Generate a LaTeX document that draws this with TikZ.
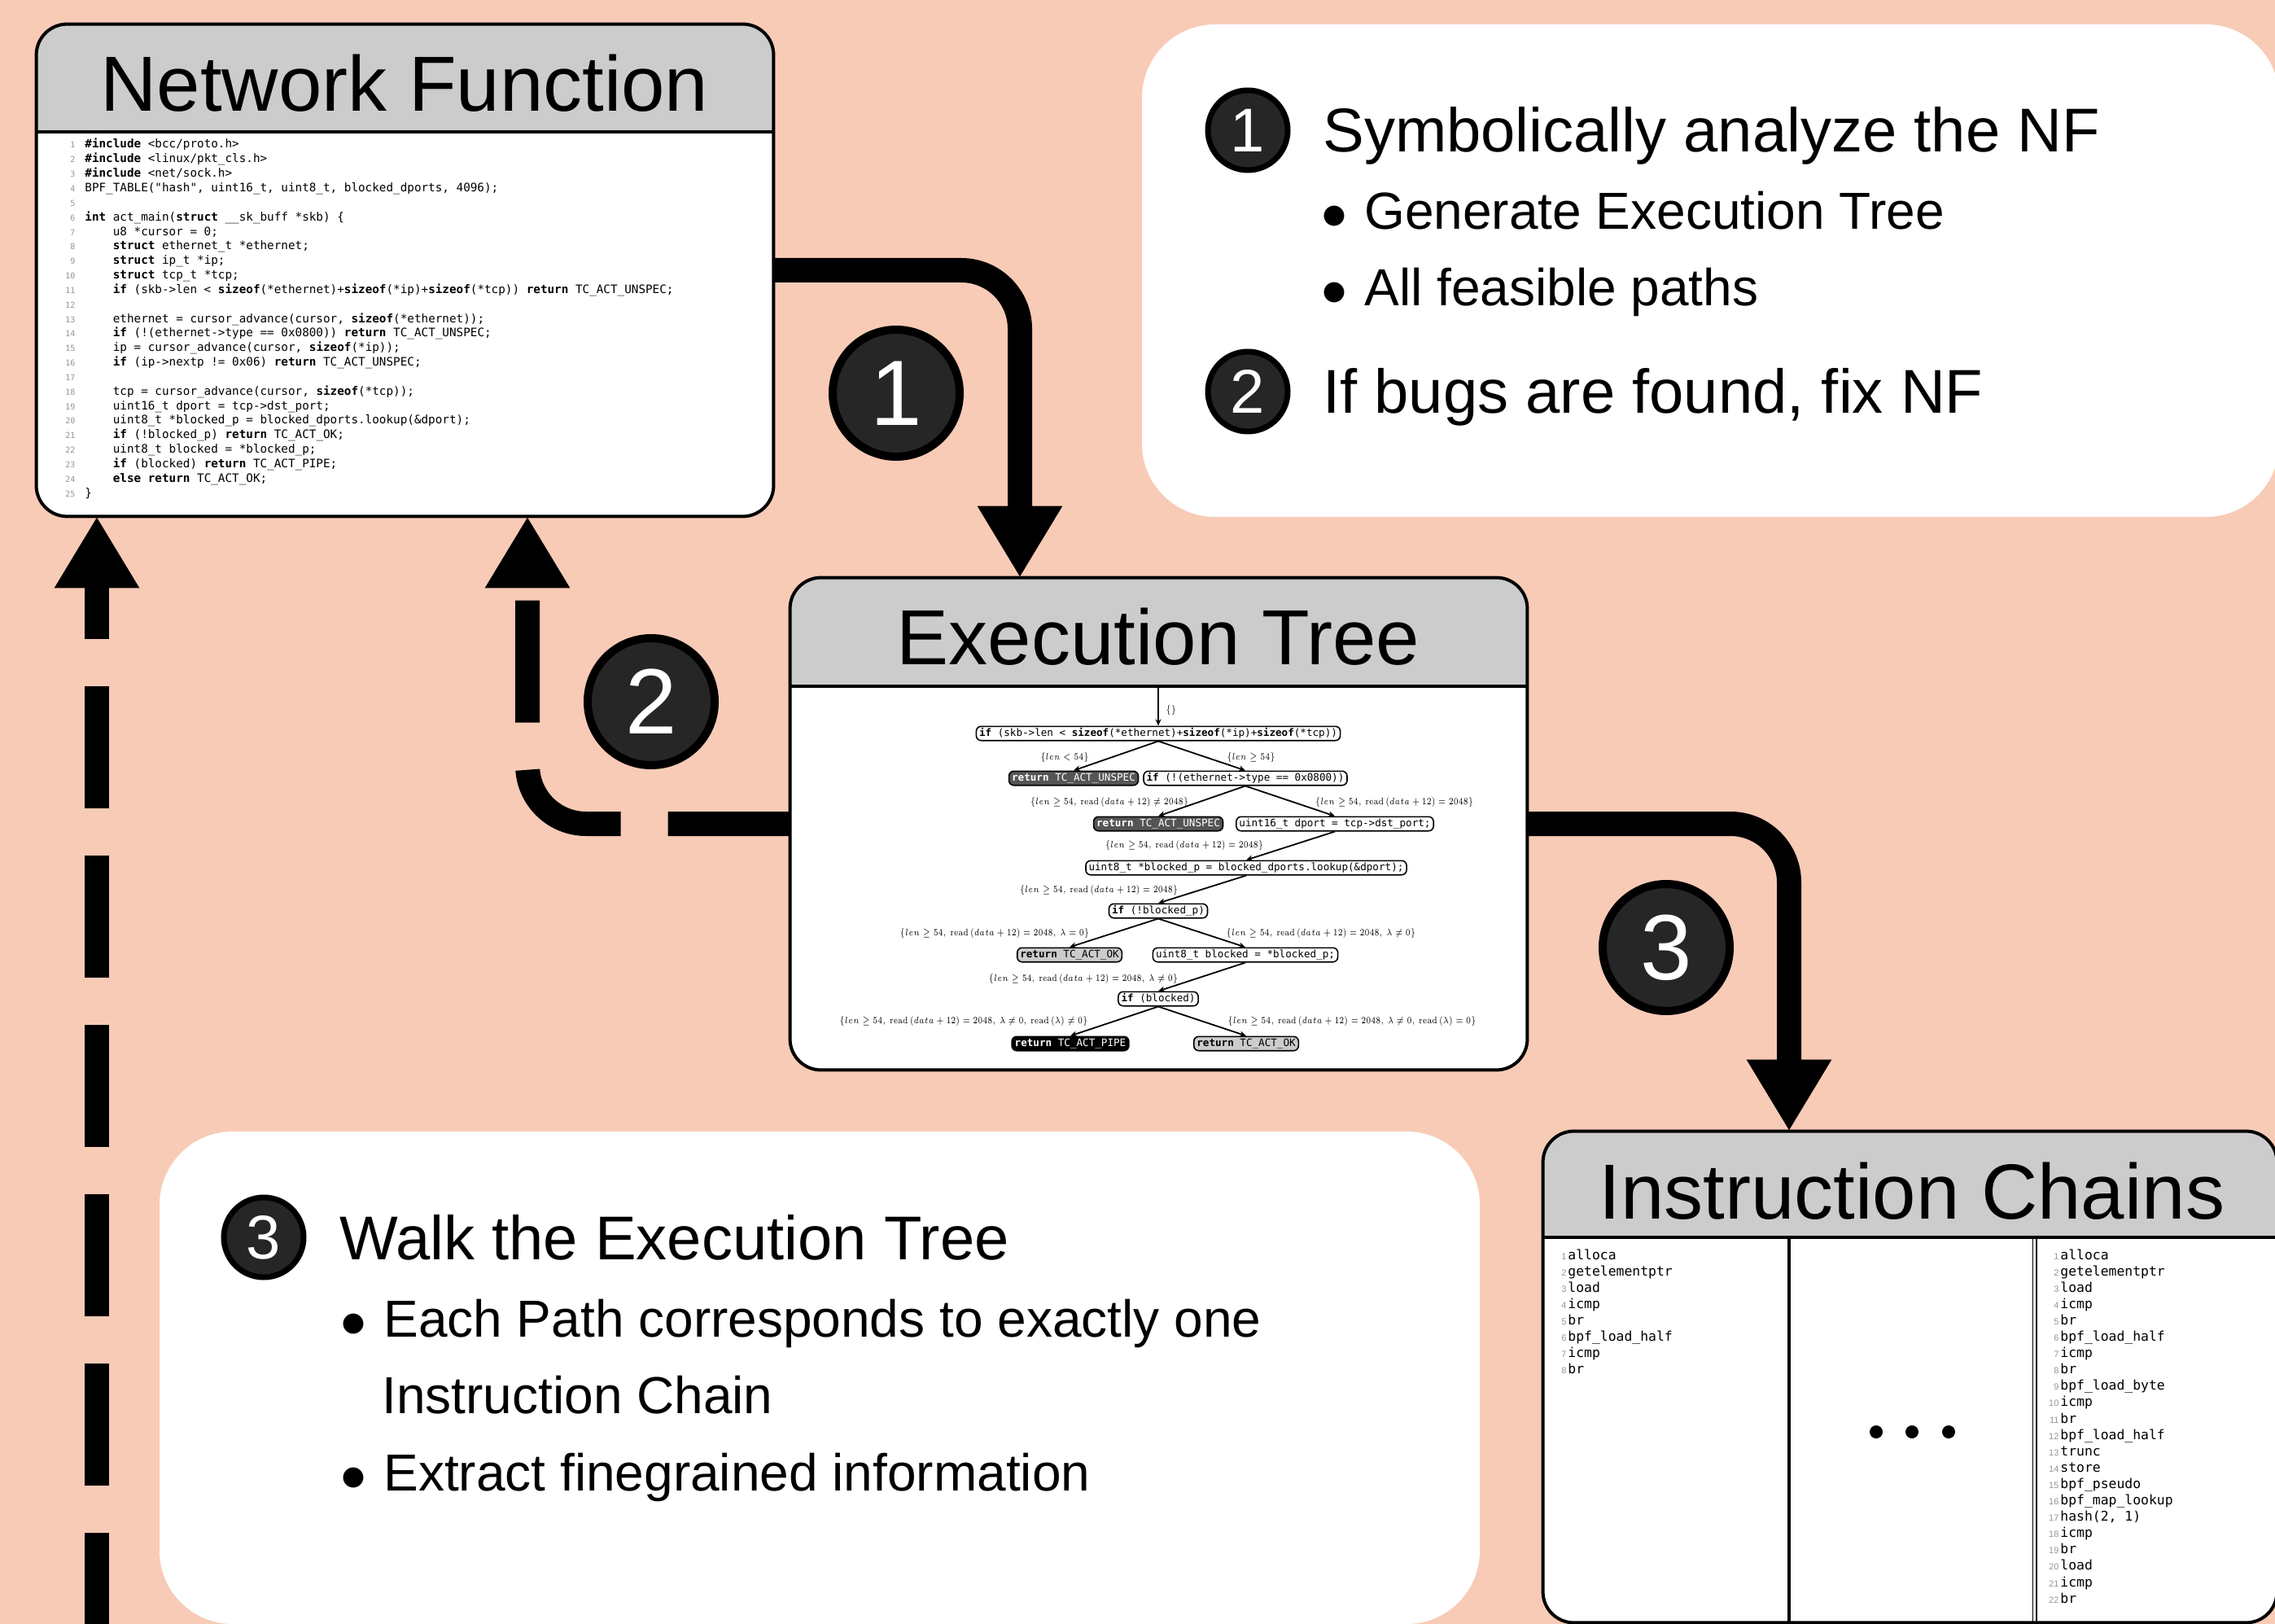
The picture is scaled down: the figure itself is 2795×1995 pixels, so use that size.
\RequirePackage{fix-cm}
\documentclass[tikz,border=0pt]{standalone}
\usepackage[no-math]{fontspec}
\setmainfont{Liberation Sans}
\setmonofont{DejaVu Sans Mono}
\usepackage{graphicx}
\usetikzlibrary{arrows.meta,fit,calc}

\definecolor{bgpeach}{RGB}{248,203,182}
\definecolor{hdrgrey}{RGB}{204,204,204}
\definecolor{stepfill}{RGB}{38,38,38}
\definecolor{numgrey}{RGB}{150,150,150}
\definecolor{darknode}{RGB}{85,85,85}
\definecolor{lightnode}{RGB}{204,204,204}

% line number in the source listing
\newcommand\cln[1]{\makebox[8pt][r]{\fontsize{5}{5}\selectfont\color{numgrey}#1}\hspace{6pt}}
% line number in an instruction chain
\newcommand\icn[1]{\makebox[7pt][r]{\rmfamily\fontsize{5.5}{5.5}\selectfont\color{numgrey}#1}\hspace{1pt}}
\newcommand\IND{\hspace*{2.408em}}
\newcommand\kw[1]{\textbf{#1}}
% bullet of the explanation lists
\newcommand\itembullet{$\bullet$\hspace{10.5pt}}
% path condition on a tree edge (narrow set)
\newcommand\cond[1]{\scalebox{0.845}[1.12]{$#1$}}

% panel with grey header: name, top-left, bottom-right, header height
\newcommand\headedpanel[4]{%
  \node[panelbox, fit={#2 #3}] (#1) {};
  \begin{scope}
    \clip[rounded corners=19pt] (#1.north west) rectangle (#1.south east);
    \fill[hdrgrey] (#1.north west) rectangle ($(#1.north east)+(0,#4)$);
  \end{scope}
  \draw[frame] ($(#1.north west)+(0,#4)$) -- ($(#1.north east)+(0,#4)$);
  \draw[frame, rounded corners=19pt] (#1.north west) rectangle (#1.south east);
}

\begin{document}
\begin{tikzpicture}[x=0.5pt, y=-0.5pt,
  frame/.style={draw=black, line width=2pt},
  panelbox/.style={fill=white, rounded corners=19pt, inner sep=0pt},
  notebox/.style={fill=white, rounded corners=45pt, inner sep=0pt},
  paneltitle/.style={anchor=base, inner sep=0pt, font=\fontsize{48}{48}\selectfont},
  flow/.style={line width=15pt, rounded corners=36pt, -{Triangle[length=44pt,width=49pt]}},
  flowdash/.style={flow, dash pattern=on 75pt off 29pt},
  stepbig/.style={circle, fill=stepfill, draw=black, line width=5pt, minimum size=78pt,
    inner sep=0pt, text=white, font=\fontsize{57}{57}\selectfont},
  stepsmall/.style={circle, fill=stepfill, draw=black, line width=3.5pt, minimum size=49pt,
    inner sep=0pt, text=white, font=\fontsize{38}{38}\selectfont},
  headline/.style={anchor=base west, inner sep=0pt, font=\fontsize{38}{38}\selectfont},
  bulletline/.style={anchor=base west, inner sep=0pt, font=\fontsize{32}{32}\selectfont},
  tnode/.style={draw=black, line width=0.8pt, rounded corners=3pt, fill=white,
    font=\ttfamily\fontsize{6.3}{7.5}\selectfont, inner xsep=1.8pt, inner ysep=1.2pt,
    text height=4.8pt, text depth=1.5pt},
  tdark/.style={tnode, fill=darknode, text=white},
  tlight/.style={tnode, fill=lightnode},
  tblack/.style={tnode, fill=black, text=white},
  tedge/.style={line width=0.9pt, -{Stealth[length=4pt,width=3.5pt]}},
  tlabel/.style={inner sep=0pt, font=\fontsize{5.2}{6}\selectfont},
]
\useasboundingbox (0,0) rectangle (2795,1995);
\clip (0,0) rectangle (2795,1995);
\fill[bgpeach] (0,0) rectangle (2795,1995);

% ---------- explanation notes ----------
\node[notebox, fit={(1403,30) (2800,635)}] (noteA) {};
\node[notebox, fit={(196,1390) (1818,1995)}] (noteB) {};

\node[stepsmall] (n1) at (1533,160) {1};
\node[headline] (h1) at (1625,187) {Symbolically analyze the NF};
\node[bulletline] (h1a) at (1623,282) {\itembullet Generate Execution Tree};
\node[bulletline] (h1b) at (1623,376) {\itembullet All feasible paths};
\node[stepsmall] (n2) at (1533,481) {2};
\node[headline] (h2) at (1625,508) {If bugs are found, fix NF};

\node[stepsmall] (n3) at (324,1520) {3};
\node[headline] (h3) at (417,1547) {Walk the Execution Tree};
\node[bulletline] (h3a) at (418,1642) {\itembullet Each Path corresponds to exactly one};
\node[bulletline] (h3b) at (469,1736) {Instruction Chain};
\node[bulletline] (h3c) at (418,1831) {\itembullet Extract finegrained information};

% ---------- Network Function ----------
\headedpanel{nf}{(45,30)}{(950,634)}{132}
\node[paneltitle] (nfT) at (497,137) {Network Function};
\node[anchor=base west, inner sep=0pt, font=\ttfamily\fontsize{7.15}{8.92}\selectfont] (code) at (76,182) {%
\begin{tabular}[t]{@{}l@{}}
\cln{1}\kw{\#include} <bcc/proto.h>\\
\cln{2}\kw{\#include} <linux/pkt\_cls.h>\\
\cln{3}\kw{\#include} <net/sock.h>\\
\cln{4}BPF\_TABLE("hash", uint16\_t, uint8\_t, blocked\_dports, 4096);\\
\cln{5}\\
\cln{6}\kw{int} act\_main(\kw{struct} \_\_sk\_buff *skb) \{\\
\cln{7}\IND u8 *cursor = 0;\\
\cln{8}\IND \kw{struct} ethernet\_t *ethernet;\\
\cln{9}\IND \kw{struct} ip\_t *ip;\\
\cln{10}\IND \kw{struct} tcp\_t *tcp;\\
\cln{11}\IND \kw{if} (skb->len < \kw{sizeof}(*ethernet)+\kw{sizeof}(*ip)+\kw{sizeof}(*tcp)) \kw{return} TC\_ACT\_UNSPEC;\\
\cln{12}\\
\cln{13}\IND ethernet = cursor\_advance(cursor, \kw{sizeof}(*ethernet));\\
\cln{14}\IND \kw{if} (!(ethernet->type == 0x0800)) \kw{return} TC\_ACT\_UNSPEC;\\
\cln{15}\IND ip = cursor\_advance(cursor, \kw{sizeof}(*ip));\\
\cln{16}\IND \kw{if} (ip->nextp != 0x06) \kw{return} TC\_ACT\_UNSPEC;\\
\cln{17}\\
\cln{18}\IND tcp = cursor\_advance(cursor, \kw{sizeof}(*tcp));\\
\cln{19}\IND uint16\_t dport = tcp->dst\_port;\\
\cln{20}\IND uint8\_t *blocked\_p = blocked\_dports.lookup(\&dport);\\
\cln{21}\IND \kw{if} (!blocked\_p) \kw{return} TC\_ACT\_OK;\\
\cln{22}\IND uint8\_t blocked = *blocked\_p;\\
\cln{23}\IND \kw{if} (blocked) \kw{return} TC\_ACT\_PIPE;\\
\cln{24}\IND \kw{else} \kw{return} TC\_ACT\_OK;\\
\cln{25}\}
\end{tabular}};

% ---------- Execution Tree ----------
\headedpanel{et}{(971,710)}{(1876,1314)}{133}
\node[paneltitle] (etT) at (1423,816) {Execution Tree};

\coordinate (troot) at (1423,845);
\node[tnode]  (t1)  at (1423,901)  {\kw{if} (skb->len < \kw{sizeof}(*ethernet)+\kw{sizeof}(*ip)+\kw{sizeof}(*tcp))};
\node[tdark]  (t2)  at (1319,956)  {\kw{return} TC\_ACT\_UNSPEC};
\node[tnode]  (t3)  at (1530,956)  {\kw{if} (!(ethernet->type == 0x0800))};
\node[tdark]  (t4)  at (1423,1012) {\kw{return} TC\_ACT\_UNSPEC};
\node[tnode]  (t5)  at (1640,1012) {uint16\_t dport = tcp->dst\_port;};
\node[tnode]  (t6)  at (1531,1066) {uint8\_t *blocked\_p = blocked\_dports.lookup(\&dport);};
\node[tnode]  (t7)  at (1423,1119) {\kw{if} (!blocked\_p)};
\node[tlight] (t8)  at (1314,1173) {\kw{return} TC\_ACT\_OK};
\node[tnode]  (t9)  at (1530,1173) {uint8\_t blocked = *blocked\_p;};
\node[tnode]  (t10) at (1423,1227) {\kw{if} (blocked)};
\node[tblack] (t11) at (1315,1282) {\kw{return} TC\_ACT\_PIPE};
\node[tlight] (t12) at (1531,1282) {\kw{return} TC\_ACT\_OK};

\draw[tedge] (troot) -- (t1.north);
\draw[tedge] (t1.south) -- (t2.north);
\draw[tedge] (t1.south) -- (t3.north);
\draw[tedge] (t3.south) -- (t4.north);
\draw[tedge] (t3.south) -- (t5.north);
\draw[tedge] (t5.south) -- (t6.north);
\draw[tedge] (t6.south) -- (t7.north);
\draw[tedge] (t7.south) -- (t8.north);
\draw[tedge] (t7.south) -- (t9.north);
\draw[tedge] (t9.south) -- (t10.north);
\draw[tedge] (t10.south) -- (t11.north);
\draw[tedge] (t10.south) -- (t12.north);

\node[tlabel, anchor=west] (l0) at (1432,873) {\cond{\{\}}};
\node[tlabel] (l1)  at (1308,931)  {\cond{\{len<54\}}};
\node[tlabel] (l2)  at (1537,931)  {\cond{\{len\geq 54\}}};
\node[tlabel] (l3)  at (1363,986)  {\cond{\{len\geq 54,\ \mathrm{read}\,(data+12)\neq 2048\}}};
\node[tlabel] (l4)  at (1713,986)  {\cond{\{len\geq 54,\ \mathrm{read}\,(data+12)=2048\}}};
\node[tlabel] (l5)  at (1455,1039) {\cond{\{len\geq 54,\ \mathrm{read}\,(data+12)=2048\}}};
\node[tlabel] (l6)  at (1350,1094) {\cond{\{len\geq 54,\ \mathrm{read}\,(data+12)=2048\}}};
\node[tlabel] (l7)  at (1222,1147) {\cond{\{len\geq 54,\ \mathrm{read}\,(data+12)=2048,\ \lambda=0\}}};
\node[tlabel] (l8)  at (1623,1147) {\cond{\{len\geq 54,\ \mathrm{read}\,(data+12)=2048,\ \lambda\neq 0\}}};
\node[tlabel] (l9)  at (1331,1203) {\cond{\{len\geq 54,\ \mathrm{read}\,(data+12)=2048,\ \lambda\neq 0\}}};
\node[tlabel] (l10) at (1184,1255) {\cond{\{len\geq 54,\ \mathrm{read}\,(data+12)=2048,\ \lambda\neq 0,\ \mathrm{read}\,(\lambda)\neq 0\}}};
\node[tlabel] (l11) at (1661,1255) {\cond{\{len\geq 54,\ \mathrm{read}\,(data+12)=2048,\ \lambda\neq 0,\ \mathrm{read}\,(\lambda)=0\}}};

% ---------- Instruction Chains ----------
\headedpanel{ic}{(1896,1390)}{(2797,1993)}{130}
\node[paneltitle] (icT) at (2349,1497) {Instruction Chains};
\draw[frame] (2198,1520) -- (2198,1993);
\draw[draw=black, line width=0.8pt] (2497.5,1520) -- (2497.5,1993);
\draw[draw=black, line width=0.8pt] (2502,1520) -- (2502,1993);

\node[anchor=base west, inner sep=0pt, font=\ttfamily\fontsize{8.2}{10.05}\selectfont] (chainA) at (1910,1547) {%
\begin{tabular}[t]{@{}l@{}}
\icn{1}alloca\\
\icn{2}getelementptr\\
\icn{3}load\\
\icn{4}icmp\\
\icn{5}br\\
\icn{6}bpf\_load\_half\\
\icn{7}icmp\\
\icn{8}br
\end{tabular}};
\node[anchor=base west, inner sep=0pt, font=\ttfamily\fontsize{8.2}{10.05}\selectfont] (chainB) at (2515,1547) {%
\begin{tabular}[t]{@{}l@{}}
\icn{1}alloca\\
\icn{2}getelementptr\\
\icn{3}load\\
\icn{4}icmp\\
\icn{5}br\\
\icn{6}bpf\_load\_half\\
\icn{7}icmp\\
\icn{8}br\\
\icn{9}bpf\_load\_byte\\
\icn{10}icmp\\
\icn{11}br\\
\icn{12}bpf\_load\_half\\
\icn{13}trunc\\
\icn{14}store\\
\icn{15}bpf\_pseudo\\
\icn{16}bpf\_map\_lookup\\
\icn{17}hash(2, 1)\\
\icn{18}icmp\\
\icn{19}br\\
\icn{20}load\\
\icn{21}icmp\\
\icn{22}br
\end{tabular}};
\fill (2305,1759) circle[radius=4pt];
\fill (2349,1759) circle[radius=4pt];
\fill (2394,1759) circle[radius=4pt];

% ---------- workflow arrows ----------
\coordinate (b1) at (1253,332);
\coordinate (b2) at (648,1012);
\coordinate (b3) at (2198,1012);
\coordinate (s0) at (119,2033);
\draw[flow] (nf.east) -- (b1) -- (b1 |- et.north);
\draw[flow] (et.east) -- (b3) -- (b3 |- ic.north);
\draw[flowdash] (et.west) -- (b2) -- (b2 |- nf.south);
\draw[flowdash] (s0) -- (s0 |- nf.south);

\node[stepbig] (s1) at (1101,483) {1};
\node[stepbig] (s2) at (800,862) {2};
\node[stepbig] (s3) at (2047,1164) {3};
\end{tikzpicture}
\end{document}
